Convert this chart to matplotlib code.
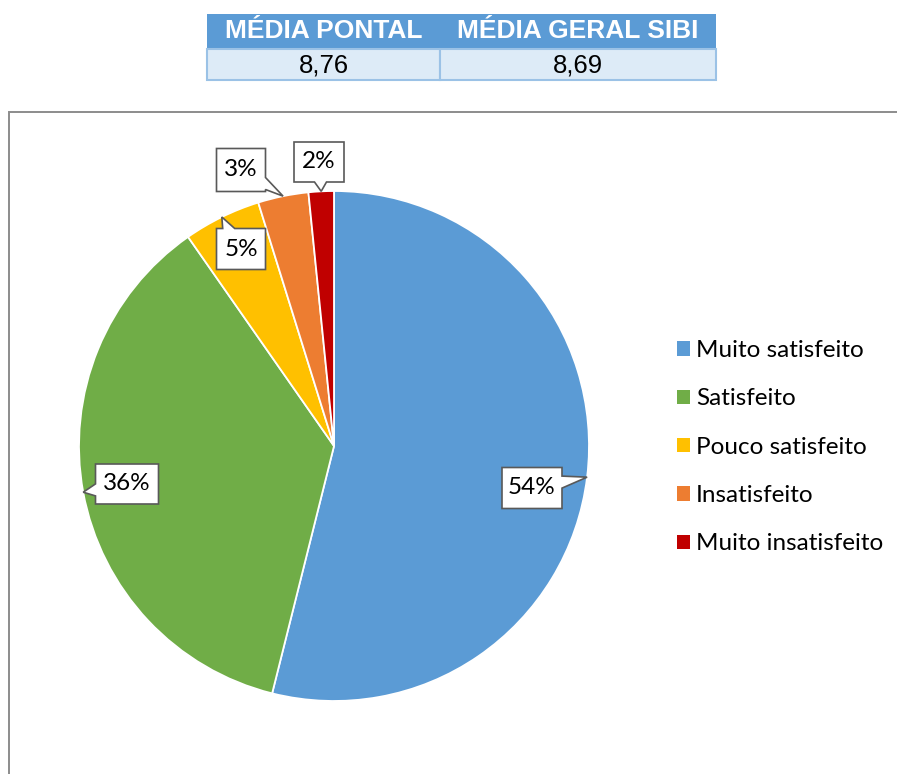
import numpy as np
import matplotlib
matplotlib.use('Agg')
import matplotlib.pyplot as plt
from matplotlib.patches import Rectangle, Polygon

# dados
categorias = ['Muito satisfeito', 'Satisfeito', 'Pouco satisfeito',
              'Insatisfeito', 'Muito insatisfeito']
valores = [53.9, 36.4, 4.9, 3.2, 1.6]
cores = ['#5B9BD5', '#70AD47', '#FFC000', '#ED7D31', '#C00000']
tab_cab = ['MÉDIA PONTAL', 'MÉDIA GERAL SIBI']
tab_val = ['8,76', '8,69']

W, H = 897, 774
fig = plt.figure(figsize=(W / 100, H / 100), dpi=100)
ax = fig.add_axes([0, 0, 1, 1])

def Y(y):
    # coordenada de imagem -> dados (y para cima)
    return H - y

wedges, _ = ax.pie(valores, colors=cores, startangle=90, counterclock=False,
                   center=(334, Y(446)), radius=255,
                   wedgeprops=dict(edgecolor='white', linewidth=1.3))
ax.set_xlim(0, W)
ax.set_ylim(0, H)
ax.set_aspect('auto')
ax.axis('off')

# caixas de rotulo (centro x, centro y, largura, altura) em pixels da imagem
caixas = [(532, 488, 60, 41), (127, 484, 63, 40), (241, 249, 49, 41),
          (241, 170, 49, 43), (319, 162, 50, 40)]

def callout(cx, cy, w, h, tip, txt):
    cy = Y(cy)
    x0, x1, y0, y1 = cx - w / 2, cx + w / 2, cy - h / 2, cy + h / 2
    dx, dy = tip[0] - cx, tip[1] - cy
    tx = (w / 2) / abs(dx) if dx else 1e9
    ty = (h / 2) / abs(dy) if dy else 1e9
    t = min(tx, ty)
    px, py = cx + dx * t, cy + dy * t
    b = 6
    if tx < ty:
        py = min(max(py, y0 + b + 2), y1 - b - 2)
        if dx > 0:
            pts = [(x0, y0), (x1, y0), (x1, py - b), tip, (x1, py + b), (x1, y1), (x0, y1)]
        else:
            pts = [(x0, y0), (x1, y0), (x1, y1), (x0, y1), (x0, py + b), tip, (x0, py - b)]
    else:
        px = min(max(px, x0 + b + 2), x1 - b - 2)
        if dy > 0:
            pts = [(x0, y0), (x1, y0), (x1, y1), (px + b, y1), tip, (px - b, y1), (x0, y1)]
        else:
            pts = [(x0, y0), (px - b, y0), tip, (px + b, y0), (x1, y0), (x1, y1), (x0, y1)]
    ax.add_patch(Polygon(pts, closed=True, facecolor='white', edgecolor='#595959',
                         linewidth=1.2, zorder=5))
    ax.text(cx, cy, txt, ha='center', va='center', fontsize=17.5,
            family='Lato', color='black', zorder=6)

for w, v, (cx, cy, bw, bh) in zip(wedges, valores, caixas):
    ang = np.deg2rad((w.theta1 + w.theta2) / 2)
    tip = (w.center[0] + w.r * np.cos(ang), w.center[1] + w.r * np.sin(ang))
    callout(cx, cy, bw, bh, tip, '{:.0f}%'.format(v))

leg = ax.legend(wedges, categorias, loc='upper left', bbox_to_anchor=(677 / W, Y(340) / H),
                frameon=False, handlelength=0.53, handleheight=0.53,
                handletextpad=0.25, labelspacing=1.125, borderaxespad=0, borderpad=0,
                prop=dict(family='Lato', size=17.5))
for hdl in leg.legend_handles:
    hdl.set_edgecolor('none')

# moldura do grafico
ax.plot([9, 9, W], [0, Y(112), Y(112)], color='#8C8C8C', linewidth=1.4,
        solid_joinstyle='miter')

# tabela de medias
xs = [207, 440, 716]
for i in range(2):
    ax.add_patch(Rectangle((xs[i], Y(49)), xs[i + 1] - xs[i], 35,
                           facecolor='#5B9BD5', edgecolor='none'))
    ax.add_patch(Rectangle((xs[i], Y(80)), xs[i + 1] - xs[i], 31,
                           facecolor='#DDEBF7', edgecolor='#9BC2E6', linewidth=1.5))
    xc = (xs[i] + xs[i + 1]) / 2
    ax.text(xc, Y(31.5), tab_cab[i], ha='center', va='center', color='white',
            fontsize=19, fontweight='bold', family='Liberation Sans')
    ax.text(xc, Y(65), tab_val[i], ha='center', va='center', color='black',
            fontsize=18.5, family='Liberation Sans')

fig.savefig('out.png', dpi=100)
